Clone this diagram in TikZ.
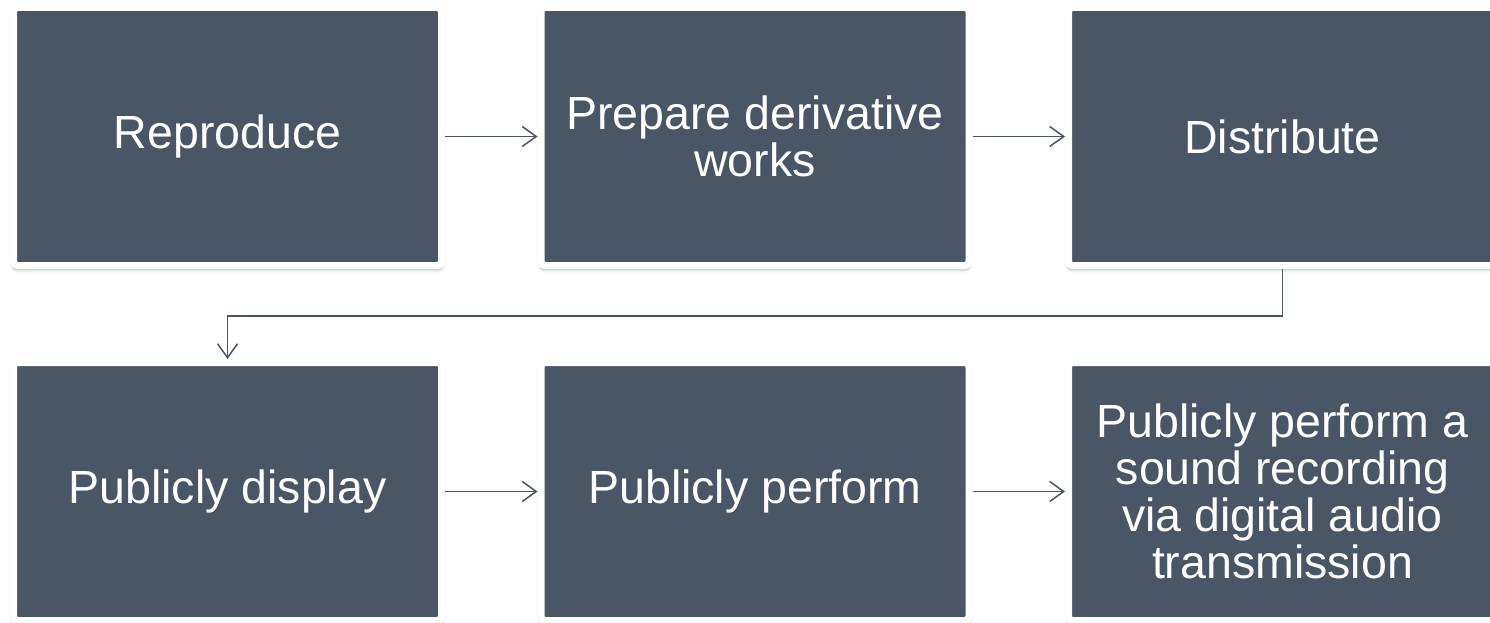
\documentclass[tikz,border=0pt]{standalone}
\usepackage{fontspec}
\setmainfont{Liberation Sans}
\usetikzlibrary{arrows.meta, shadows.blur}

\definecolor{slate}{RGB}{74,85,102}

\begin{document}
\begin{tikzpicture}[x=1pt, y=-1pt, >={Straight Barb[length=14pt, width=20pt]},
    rightbox/.style={rectangle, fill=slate, draw=white, line width=7pt,
      rounded corners=4pt, minimum width=428pt, minimum height=258pt,
      text=white, align=center, font=\fontsize{46.5}{47}\selectfont,
      blur shadow={shadow xshift=0pt, shadow yshift=-3pt, shadow blur radius=4pt, shadow opacity=55}},
    link/.style={->, draw=slate, line width=1.5pt}]
  % Khung hình
  \useasboundingbox (0,0) rectangle (1490,623);
  \clip (0,0) rectangle (1490,623);
  % 1. Hàng trên
  \node[rightbox] (repro) at (227.5,136.5) {Reproduce};
  \node[rightbox] (deriv) at (755,136.5) {Prepare derivative\\works};
  \node[rightbox] (distr) at (1282.5,136.5) {Distribute};
  % 2. Hàng dưới
  \node[rightbox] (display) at (227.5,491.5) {Publicly display};
  \node[rightbox] (perform) at (755,491.5) {Publicly perform};
  \node[rightbox] (sound) at (1282.5,491.5) {Publicly perform a\\sound recording\\via digital audio\\transmission};
  % 3. Các mũi tên
  \draw[link] (repro) -- (deriv);
  \draw[link] (deriv) -- (distr);
  \draw[link] (distr.south) -- ++(0,47) -| (display.north);
  \draw[link] (display) -- (perform);
  \draw[link] (perform) -- (sound);
\end{tikzpicture}
\end{document}
